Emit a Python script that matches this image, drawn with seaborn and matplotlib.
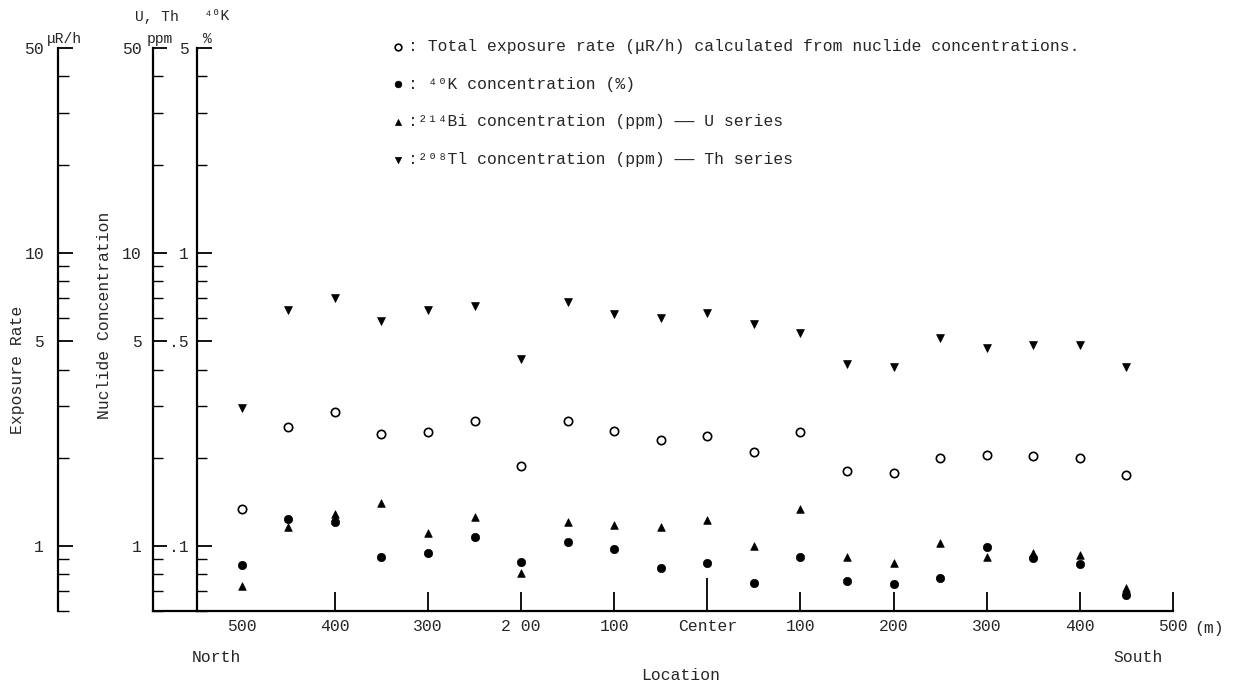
import matplotlib
matplotlib.use("Agg")
import matplotlib.pyplot as plt
from matplotlib.ticker import FixedLocator, FixedFormatter, NullFormatter
import seaborn as sns

# Survey stations along the line, metres from the centre (north is negative)
location_m = [-500, -450, -400, -350, -300, -250, -200, -150, -100, -50,
              0, 50, 100, 150, 200, 250, 300, 350, 400, 450]

# Total exposure rate calculated from nuclide concentrations (uR/h)
exposure_uRh = [1.34, 2.55, 2.87, 2.41, 2.45, 2.67, 1.88, 2.67, 2.47, 2.30,
                2.37, 2.09, 2.45, 1.80, 1.77, 2.00, 2.04, 2.03, 2.00, 1.75]
# 40K concentration (%)
k40_pct = [0.086, 0.124, 0.121, 0.092, 0.095, 0.107, 0.088, 0.103, 0.098, 0.084,
           0.0875, 0.075, 0.092, 0.076, 0.074, 0.078, 0.099, 0.091, 0.087, 0.068]
# 214Bi concentration (ppm), U series
bi214_ppm = [0.73, 1.16, 1.29, 1.40, 1.11, 1.26, 0.81, 1.21, 1.18, 1.16,
             1.23, 1.00, 1.34, 0.92, 0.875, 1.02, 0.92, 0.95, 0.93, 0.72]
# 208Tl concentration (ppm), Th series
tl208_ppm = [2.96, 6.39, 7.02, 5.86, 6.39, 6.59, 4.35, 6.80, 6.19, 6.00,
             6.24, 5.72, 5.33, 4.18, 4.08, 5.13, 4.74, 4.85, 4.85, 4.08]

xtick_pos = [-500, -400, -300, -200, -100, 0, 100, 200, 300, 400, 500]
xtick_labels = ["500", "400", "300", "2 00", "100", "Center",
                "100", "200", "300", "400", "500"]

legend_labels = [
    ": Total exposure rate (\u03bcR/h) calculated from nuclide concentrations.",
    ": \u2074\u2070K concentration (%)",
    ":\u00b2\u00b9\u2074Bi concentration (ppm) \u2014\u2014 U series",
    ":\u00b2\u2070\u2078Tl concentration (ppm) \u2014\u2014 Th series",
]

sns.set_style("ticks")
plt.rcParams["font.family"] = ["Liberation Mono", "DejaVu Sans Mono"]
FS = 11.8

W, H = 1238, 689
fig = plt.figure(figsize=(W / 100, H / 100), dpi=100)
fig.patch.set_facecolor("white")


def box(x0, y0, x1, y1):
    """Pixel box (top-left origin) to figure-fraction rect."""
    return [x0 / W, 1 - y1 / H, (x1 - x0) / W, (y1 - y0) / H]


def style_y(a, lo, hi, major, labels, minor, major_len, minor_len, pad):
    a.set_yscale("log")
    a.set_ylim(lo, hi)
    a.yaxis.set_major_locator(FixedLocator(major))
    a.yaxis.set_major_formatter(FixedFormatter(labels))
    a.yaxis.set_minor_locator(FixedLocator(minor))
    a.yaxis.set_minor_formatter(NullFormatter())
    a.tick_params(axis="y", which="major", direction="in", length=major_len,
                  width=1.3, pad=pad, labelsize=FS, color="black")
    a.tick_params(axis="y", which="minor", direction="in", length=minor_len,
                  width=1.0, color="black")


ppm_minor = [0.6, 0.7, 0.8, 0.9, 2, 3, 4, 6, 7, 8, 9, 20, 30, 40]
k_minor = [0.06, 0.07, 0.08, 0.09, 0.2, 0.3, 0.4, 0.6, 0.7, 0.8, 0.9, 2, 3, 4]

# Main plotting area: exposure rate and U/Th nuclides share the 0.6-50 scale
ax = fig.add_axes(box(197, 48, 1173, 611))
ax.patch.set_alpha(0)
# 40K scale (%) drawn as the inner left axis
axk = fig.add_axes(box(197, 48, 1173, 611), sharex=ax)
axk.patch.set_alpha(0)
# U, Th ppm axis
axn = fig.add_axes(box(153, 48, 197, 611))
axn.patch.set_alpha(0)
# Exposure rate axis
axe = fig.add_axes(box(58, 48, 100, 611))
axe.patch.set_alpha(0)

sns.scatterplot(x=location_m, y=tl208_ppm, ax=ax, marker="v", s=32,
                color="black", edgecolor="black", linewidth=0.5,
                label=legend_labels[3], legend=False)
sns.scatterplot(x=location_m, y=bi214_ppm, ax=ax, marker="^", s=30,
                color="black", edgecolor="black", linewidth=0.5,
                label=legend_labels[2], legend=False)
sns.scatterplot(x=location_m, y=exposure_uRh, ax=ax, marker="o", s=36,
                color="white", edgecolor="black", linewidth=1.2,
                label=legend_labels[0], legend=False)
sns.scatterplot(x=location_m, y=k40_pct, ax=axk, marker="o", s=36,
                color="black", edgecolor="black", linewidth=0.5,
                label=legend_labels[1], legend=False)

style_y(ax, 0.6, 50, [], [], [], 0, 0, 0)
ax.tick_params(axis="y", which="both", left=False, labelleft=False)
style_y(axk, 0.06, 5, [0.1, 0.5, 1, 5], [".1", ".5", "1", "5"], k_minor, 11, 7, 6)
style_y(axn, 0.6, 50, [1, 5, 10, 50], ["1", "5", "10", "50"], ppm_minor, 10, 7, 8)
style_y(axe, 0.6, 50, [1, 5, 10, 50], ["1", "5", "10", "50"], ppm_minor, 11, 8, 10)

ax.set_xlim(-548, 500)
ax.set_xticks(xtick_pos)
ax.set_xticklabels(xtick_labels)
ax.tick_params(axis="x", direction="in", length=14, width=1.3, pad=6,
               labelsize=FS, color="black")
xt = ax.xaxis.get_major_ticks()
xt[0].tick1line.set_visible(False)
xt[5].tick1line.set_markersize(24)
ax.set_xlabel("")
ax.set_ylabel("")

for a in (axk, axn, axe):
    a.tick_params(axis="x", which="both", bottom=False, labelbottom=False)
    a.set_xlabel("")
    a.set_ylabel("")
axn.set_xticks([])
axe.set_xticks([])

for a, shown in ((ax, ("bottom",)), (axk, ("left",)),
                 (axn, ("left", "bottom")), (axe, ("left",))):
    for name, sp in a.spines.items():
        sp.set_visible(name in shown)
        sp.set_linewidth(1.6)
        sp.set_color("black")

# Legend listing the four marker types
h_ax, l_ax = ax.get_legend_handles_labels()
h_k, l_k = axk.get_legend_handles_labels()
lookup = dict(zip(l_ax + l_k, h_ax + h_k))
handles = [lookup[lbl] for lbl in legend_labels]
fig.legend(handles, legend_labels, loc="upper left",
           bbox_to_anchor=(392 / W, 1 - 39 / H), bbox_transform=fig.transFigure,
           frameon=False, handlelength=0.7, handletextpad=0.3, borderpad=0,
           borderaxespad=0, labelspacing=1.38, fontsize=FS, markerscale=0.8)


def px_text(x, y, s, **kw):
    kw.setdefault("fontsize", FS)
    fig.text(x / W, 1 - y / H, s, **kw)


# Axis headers and titles
px_text(47, 39, "\u03bcR/h", ha="left", va="center", fontsize=10.5)
px_text(157, 17, "U, Th", ha="center", va="center", fontsize=10.5)
px_text(160, 39, "ppm", ha="center", va="center", fontsize=10.5)
px_text(217, 16, "\u2074\u2070K", ha="center", va="center", fontsize=10.5)
px_text(207, 39, "%", ha="center", va="center", fontsize=10.5)
px_text(18, 370, "Exposure Rate", rotation=90, ha="center", va="center")
px_text(105, 315, "Nuclide Concentration", rotation=90, ha="center", va="center")
px_text(1194, 629, "(m)", ha="left", va="center")
px_text(216, 657, "North", ha="center", va="center")
px_text(1138, 657, "South", ha="center", va="center")
px_text(681, 676, "Location", ha="center", va="center")

fig.savefig("out.png", dpi=100, facecolor="white")
